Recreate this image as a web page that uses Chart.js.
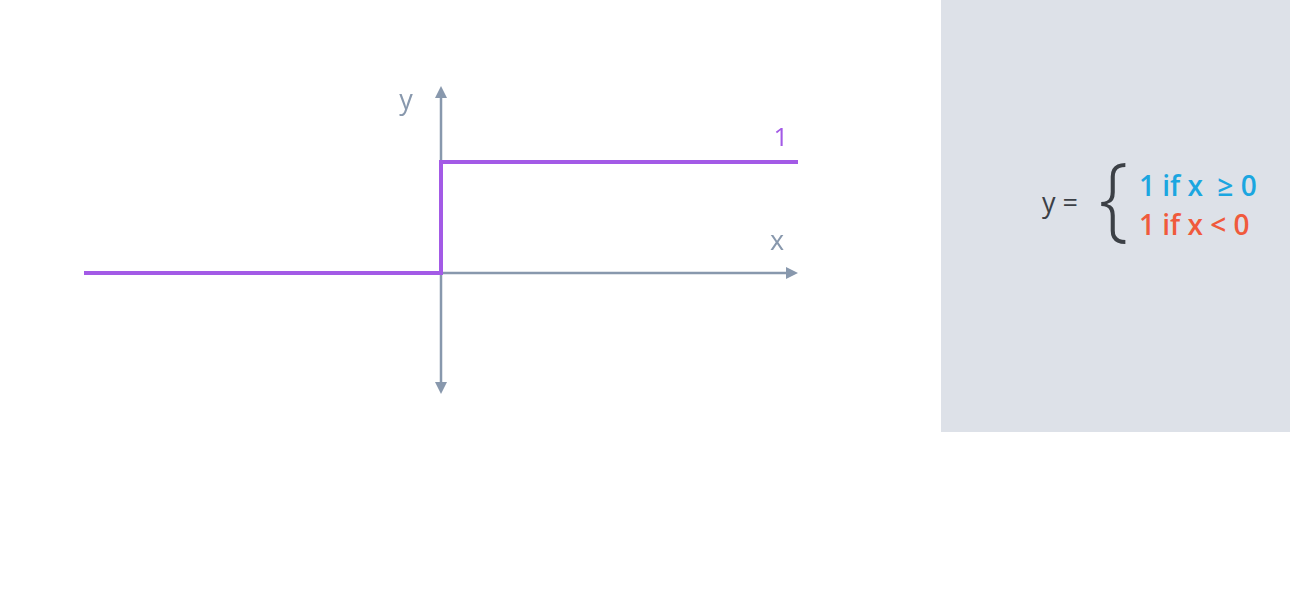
<!DOCTYPE html>
<html>
<head>
<meta charset="utf-8">
<script src="https://cdn.jsdelivr.net/npm/chart.js@4"></script>
<style>
  html, body { margin: 0; padding: 0; background: #fff; }
  #wrap { position: relative; width: 1290px; height: 615px; overflow: hidden; }
  #chart { position: absolute; left: 0; top: 0; }
  #panel {
    position: absolute; left: 941px; top: 0; width: 349px; height: 432px;
    background: #dde1e8;
    font-family: "Open Sans", sans-serif;
  }
  #panel .lhs { position: absolute; left: 101px; top: 183px; font-size: 27px; color: #3c4046; }
  #panel .brace { position: absolute; left: 158px; top: 148px; font-size: 92px; line-height: 1; color: #3c4046; font-weight: 300; transform: scaleX(0.9); transform-origin: left top; }
  #panel .row { position: absolute; left: 198px; font-size: 28px; font-weight: 600; white-space: pre; }
  #panel .r1 { top: 166px; color: #1ba6e0; }
  #panel .r2 { top: 205px; color: #f05a3c; }
</style>
</head>
<body>
<div id="wrap">
  <canvas id="chart" width="940" height="615"></canvas>
  <div id="panel">
    <div class="lhs">y =</div>
    <div class="brace">{</div>
    <div class="row r1">1 if x  ≥ 0</div>
    <div class="row r2">1 if x &lt; 0</div>
  </div>
</div>
<script>
// step function data
const xValues = [-1, 0, 0, 1];
const yValues = [0, 0, 1, 1];
const stepLabel = '1';
const axisNames = ['x', 'y'];

const purple = '#a35ae6';
const axisGray = '#8898ad';

function arrowHead(ctx, x, y, dir) {
  const len = 12, half = 6;
  ctx.beginPath();
  if (dir === 'right') { ctx.moveTo(x, y); ctx.lineTo(x - len, y - half); ctx.lineTo(x - len, y + half); }
  if (dir === 'up') { ctx.moveTo(x, y); ctx.lineTo(x - half, y + len); ctx.lineTo(x + half, y + len); }
  if (dir === 'down') { ctx.moveTo(x, y); ctx.lineTo(x - half, y - len); ctx.lineTo(x + half, y - len); }
  ctx.closePath();
  ctx.fill();
}

const axesPlugin = {
  id: 'axesPlugin',
  beforeDatasetsDraw(chart) {
    const ctx = chart.ctx;
    const xs = chart.scales.x, ys = chart.scales.y;
    const x0 = xs.getPixelForValue(0), y0 = ys.getPixelForValue(0);
    const area = chart.chartArea;
    ctx.save();
    ctx.strokeStyle = axisGray;
    ctx.fillStyle = axisGray;
    ctx.lineWidth = 2.5;
    // x axis
    ctx.beginPath();
    ctx.moveTo(x0, y0);
    ctx.lineTo(area.right - 4, y0);
    ctx.stroke();
    arrowHead(ctx, area.right, y0, 'right');
    // y axis
    ctx.beginPath();
    ctx.moveTo(x0, area.top + 4);
    ctx.lineTo(x0, area.bottom - 4);
    ctx.stroke();
    arrowHead(ctx, x0, area.top, 'up');
    arrowHead(ctx, x0, area.bottom, 'down');
    ctx.restore();
  },
  afterDatasetsDraw(chart) {
    const ctx = chart.ctx;
    const xs = chart.scales.x, ys = chart.scales.y;
    const x0 = xs.getPixelForValue(0), y0 = ys.getPixelForValue(0);
    const area = chart.chartArea;
    ctx.save();
    ctx.font = '27px "Open Sans", sans-serif';
    ctx.textAlign = 'center';
    ctx.textBaseline = 'middle';
    ctx.fillStyle = axisGray;
    ctx.fillText(axisNames[0], area.right - 21, y0 - 31);
    ctx.fillText(axisNames[1], x0 - 35, area.top + 15);
    ctx.fillStyle = purple;
    ctx.font = '26px "Open Sans", sans-serif';
    ctx.fillText(stepLabel, xs.getPixelForValue(xValues[xValues.length - 1]) - 17,
      ys.getPixelForValue(yValues[yValues.length - 1]) - 23);
    ctx.restore();
  }
};

new Chart(document.getElementById('chart'), {
  type: 'line',
  data: {
    datasets: [{
      data: xValues.map((x, i) => ({ x: x, y: yValues[i] })),
      borderColor: purple,
      borderWidth: 4,
      pointRadius: 0,
      fill: false,
      tension: 0,
      borderJoinStyle: 'miter',
      borderCapStyle: 'butt'
    }]
  },
  options: {
    responsive: false,
    animation: false,
    layout: { padding: { left: 84, right: 940 - 798, top: 86, bottom: 615 - 394 } },
    plugins: { legend: { display: false }, tooltip: { enabled: false } },
    scales: {
      x: { type: 'linear', min: -1, max: 1, display: false },
      y: { type: 'linear', min: -1.09, max: 1.685, display: false }
    }
  },
  plugins: [axesPlugin]
});
</script>
</body>
</html>
